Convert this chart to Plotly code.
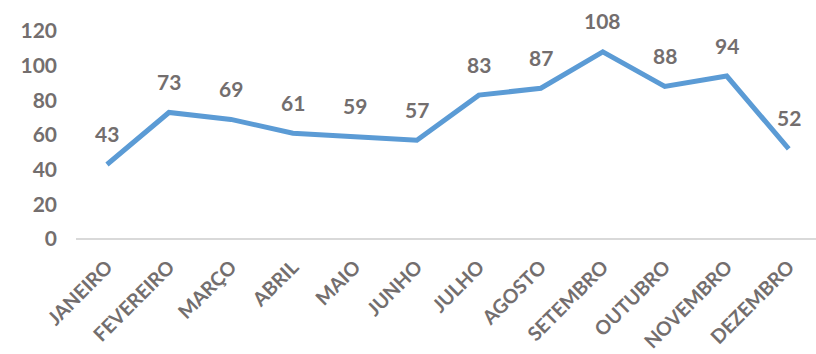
import plotly.graph_objects as go

months = ["JANEIRO", "FEVEREIRO", "MARÇO", "ABRIL", "MAIO", "JUNHO",
          "JULHO", "AGOSTO", "SETEMBRO", "OUTUBRO", "NOVEMBRO", "DEZEMBRO"]
values = [43, 73, 69, 61, 59, 57, 83, 87, 108, 88, 94, 52]
y_ticks = [0, 20, 40, 60, 80, 100, 120]

text_color = "#736e6e"
font_family = "Lato, 'Open Sans', sans-serif"

fig = go.Figure()
fig.add_trace(go.Scatter(
    x=list(range(len(months))),
    y=values,
    mode="lines",
    line=dict(color="#5B9BD5", width=5),
    hoverinfo="skip",
))

# value labels above each point
for i, v in enumerate(values):
    fig.add_annotation(
        x=i, y=v, text=str(v), showarrow=False,
        yshift=31, xref="x", yref="y",
        font=dict(family=font_family, size=21, color=text_color, weight="bold"),
    )

fig.update_layout(
    width=816, height=354,
    margin=dict(l=76, r=0, t=31, b=115),
    paper_bgcolor="white", plot_bgcolor="white",
    showlegend=False,
    font=dict(family=font_family, size=21, color=text_color, weight="bold"),
    xaxis=dict(
        range=[-0.5, 11.44],
        tickmode="array",
        tickvals=list(range(len(months))),
        ticktext=months,
        tickangle=-45,
        showgrid=False, zeroline=False,
        showline=False, ticks="",
        ticklabelstandoff=12,
        tickfont=dict(family=font_family, size=19.5, color=text_color, weight="bold"),
    ),
    yaxis=dict(
        range=[0, 120],
        tickvals=y_ticks,
        showgrid=False,
        zeroline=True, zerolinecolor="#d9d9d9", zerolinewidth=2,
        showline=False, ticks="",
        ticklabelstandoff=18,
        tickfont=dict(family=font_family, size=21, color=text_color, weight="bold"),
    ),
)

fig.write_html("out.html")
